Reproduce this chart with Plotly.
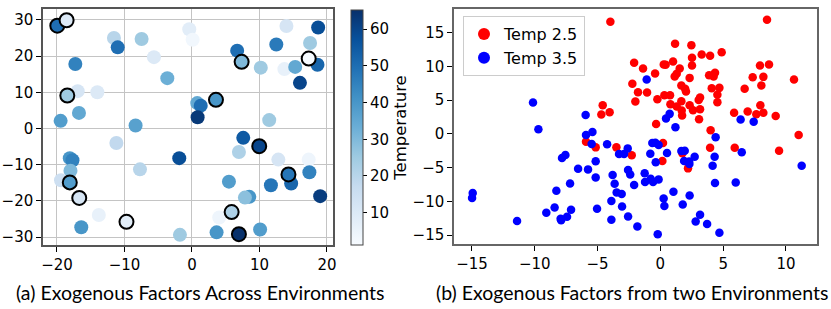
import plotly.graph_objects as go

# ---------------- Panel (a) data ----------------
a_x = [-19.95, -18.57, -11.56, -11.0, -7.46, -5.63, -3.65, -0.4, 0.1, -17.28, -16.93, -14.02, -18.47,
       -16.74, -19.46, -8.35, -11.2, 0.79, 1.3, 0.84, 3.56, 14.0, 18.7, 12.5, 17.5, 6.7, 7.36, 10.2,
       13.7, 15.3, 17.3, 18.6, 16.0, 11.45, 7.6, 9.97, 6.96, 12.8, 17.3, 14.3, 17.4, 14.7, 11.7, 5.48,
       8.5, 7.85, 19.0, 5.88, 4.04, 3.65, 6.96, 10.1, -1.88, -18.1, -17.7, -18.0, -7.7, -19.4, -18.1,
       -16.7, -13.8, -9.7, -16.4, -1.78]
a_y = [28.4, 29.9, 25.0, 22.4, 24.7, 19.7, 13.9, 27.4, 24.5, 17.8, 10.3, 10.0, 9.1,
       4.3, 2.1, 0.8, -4.0, 7.0, 6.3, 3.1, 7.9, 28.3, 27.9, 23.2, 23.6, 21.5, 18.4, 16.8,
       16.4, 17.0, 19.3, 17.6, 12.6, 2.3, -2.6, -4.9, -6.5, -8.6, -8.6, -12.7, -12.1, -15.2, -15.7, -14.7,
       -18.9, -19.1, -18.7, -23.1, -24.6, -28.7, -29.2, -27.9, -8.2, -8.2, -8.8, -11.7, -11.3, -14.3, -14.9,
       -19.2, -23.9, -25.8, -27.3, -29.4]
a_temp = [50, 10, 20, 50, 25, 10, 33, 8, 3, 45, 12, 10, 25,
          35, 38, 37, 18, 35, 50, 63, 40, 12, 58, 47, 25, 50, 30, 25,
          6, 35, 1, 52, 60, 25, 55, 60, 22, 12, 4, 48, 45, 52, 48, 38,
          40, 28, 62, 22, 4, 40, 65, 38, 58, 40, 45, 30, 20, 15, 38,
          12, 6, 8, 40, 25]
a_outlined = [1, 1, 0, 0, 0, 0, 0, 0, 0, 0, 0, 0, 1,
              0, 0, 0, 0, 0, 0, 0, 1, 0, 0, 0, 0, 0, 1, 0,
              0, 0, 1, 0, 0, 0, 0, 1, 0, 0, 0, 1, 0, 0, 0, 0,
              0, 0, 0, 1, 0, 0, 1, 0, 0, 0, 0, 0, 0, 0, 1,
              1, 0, 1, 0, 0]

# ---------------- Panel (b) data ----------------
red_x = [8.49, -3.98, 1.17, 2.47, 4.88, 3.29, 3.96, 2.52, -2.09, 1.01, 0.27, 0.42, 2.52, 7.93, 8.65,
         -1.38, 1.54, -0.42, 1.30, 1.14, 3.88, 4.35, 4.24, 2.33, 7.35, 8.2, 10.64, -2.23, 1.67, 1.97,
         2.04, 4.09, 4.70, 8.04, 6.71, -1.78, -1.06, 0.32, 0.77, 4.54, -0.24, 3.16, 3.05, -1.99, 1.67,
         4.54, 0.80, 1.30, 2.33, 7.96, 3.16, 2.60, 1.70, 1.73, 5.87, 6.95, 7.64, 8.2, 9.18, 3.08,
         -0.34, 4.0, 11.01, 0.21, 3.96, 5.92, 9.45, -4.59, -4.70, -4.04, -5.92, -5.15, -3.50, -2.28,
         0.16, 1.75, 2.2]
red_y = [16.9, 16.6, 13.35, 13.15, 12.1, 11.77, 11.57, 11.28, 10.53, 10.73, 10.28, 10.24, 10.13, 10.13, 10.28,
         9.69, 9.69, 8.95, 8.9, 8.5, 8.69, 9.05, 8.5, 8.3, 8.4, 8.45, 8.06, 7.42, 7.17, 6.68,
         6.28, 6.77, 6.82, 7.17, 6.68, 6.17, 6.13, 5.73, 5.73, 5.79, 5.13, 5.39, 5.04, 4.79, 4.84,
         4.69, 4.39, 4.05, 4.24, 4.24, 3.65, 3.5, 3.46, 2.72, 3.12, 3.31, 2.91, 3.12, 2.67, 2.17,
         1.48, 0.53, -0.15, -1.34, -2.03, -2.03, -2.48, 4.24, 2.86, 3.2, -1.14, -1.99, -1.99, -3.17,
         -4.0, -2.87, -5.1]
blue_x = [-10.14, -9.71, -5.95, -5.92, -5.41, -5.47, -4.24, -2.6, -14.94, -14.99, -11.41, -9.08, -8.42,
          -8.28, -7.94, -7.9, -7.43, -7.11, -7.19, -7.83, -7.56, -6.55, -5.76, -5.15, -5.15, -5.04,
          -3.9, -3.9, -3.80, -3.64, -3.48, -3.08, -3.05, -3.29, -2.89, -2.57, -2.57, -2.4, -0.64, -0.4,
          -0.14, -0.8, 0.53, -0.37, 1.67, 1.94, 1.89, 2.31, 2.29, 2.73, -2.09, -1.25, -1.22, -0.77,
          -0.58, -0.14, -1.83, -0.21, 0.26, 0.32, 1.04, 1.78, 2.33, 3.16, 2.81, 3.72, 4.4, 4.32, 4.16,
          4.35, 6.0, 6.48, 11.25, 4.7, -1.09, 0.74, 0.45, 1.2, 6.39, 7.43]
blue_y = [4.64, 0.69, 2.82, -0.15, 0.3, -1.48, -1.54, -2.14, -8.75, -9.5, -12.91, -11.68, -10.89,
          -8.41, -12.57, -12.8, -12.27, -11.23, -7.33, -3.56, -3.12, -5.15, -5.25, -4.06, -6.44, -11.08,
          -12.71, -9.94, -6.08, -7.37, -8.66, -8.9, -10.74, -2.97, -2.97, -5.34, -12.22, -6.0, -1.34, -1.29,
          -1.63, -2.92, -2.82, -4.21, -2.52, -2.48, -4.01, -4.45, -4.07, -3.37, -7.57, -5.84, -7.12, -6.63,
          -7.12, -6.73, -13.71, -14.84, -9.55, -10.68, -8.56, -10.45, -9.11, -11.97, -12.97, -13.35, -0.5, -3.37, -4.7,
          -7.27, -7.18, -2.73, -4.7, -14.64, 8.06, 2.97, 2.27, 0.98, 2.12, 1.82]

a_xticks = [-20, -10, 0, 10, 20]
a_yticks = [-30, -20, -10, 0, 10, 20, 30]
b_xticks = [-15, -10, -5, 0, 5, 10]
b_yticks = [-15, -10, -5, 0, 5, 10, 15]
cbar_ticks = [10, 20, 30, 40, 50, 60]
captions = ["(a) Exogenous Factors Across Environments", "(b) Exogenous Factors from two Environments"]

W, H = 831, 309
TICKFONT = dict(family="DejaVu Sans", size=15, color="black")
blues = [[0.0, "#f7fbff"], [0.125, "#deebf7"], [0.25, "#c6dbef"], [0.375, "#9ecae1"],
         [0.5, "#6baed6"], [0.625, "#4292c6"], [0.75, "#2171b5"], [0.875, "#08519c"], [1.0, "#08306b"]]

fig = go.Figure()

plain = [i for i, o in enumerate(a_outlined) if not o]
ring = [i for i, o in enumerate(a_outlined) if o]
fig.add_trace(go.Scatter(
    x=[a_x[i] for i in plain], y=[a_y[i] for i in plain], mode="markers",
    marker=dict(size=14, color=[a_temp[i] for i in plain], coloraxis="coloraxis", line=dict(width=0)),
    xaxis="x", yaxis="y", showlegend=False))
fig.add_trace(go.Scatter(
    x=[a_x[i] for i in ring], y=[a_y[i] for i in ring], mode="markers",
    marker=dict(size=14, color=[a_temp[i] for i in ring], coloraxis="coloraxis",
                line=dict(width=2, color="black")),
    xaxis="x", yaxis="y", showlegend=False))

fig.add_trace(go.Scatter(x=red_x, y=red_y, mode="markers", name="Temp 2.5",
                         marker=dict(size=8.5, color="#ff0000"), xaxis="x2", yaxis="y2"))
fig.add_trace(go.Scatter(x=blue_x, y=blue_y, mode="markers", name="Temp 3.5",
                         marker=dict(size=8.5, color="#0000ff"), xaxis="x2", yaxis="y2"))

axis_common = dict(showline=True, mirror=True, ticks="outside", ticklen=5, tickcolor="black",
                   tickfont=TICKFONT, zeroline=False, automargin=False)

fig.update_layout(
    width=W, height=H, margin=dict(l=0, r=0, t=0, b=0, pad=0, autoexpand=False),
    paper_bgcolor="white", plot_bgcolor="white",
    xaxis=dict(domain=[43 / W, 333 / W], range=[-22.07, 20.9], tickvals=a_xticks,
               showgrid=True, gridcolor="#c4c4c4", gridwidth=1.3, linecolor="#555", linewidth=1.5,
               anchor="y", **axis_common),
    yaxis=dict(domain=[1 - 245 / H, 1 - 9 / H], range=[-32.2, 33.0], tickvals=a_yticks,
               showgrid=True, gridcolor="#c4c4c4", gridwidth=1.3, linecolor="#555", linewidth=1.5,
               anchor="x", **axis_common),
    xaxis2=dict(domain=[454 / W, 817 / W], range=[-16.43, 12.47], tickvals=b_xticks,
                showgrid=False, linecolor="#666", linewidth=1.5, anchor="y2", **axis_common),
    yaxis2=dict(domain=[1 - 244 / H, 1 - 9 / H], range=[-16.3, 18.5], tickvals=b_yticks,
                showgrid=False, linecolor="#666", linewidth=1.5, anchor="x2", **axis_common),
    coloraxis=dict(
        colorscale=blues, cmin=1.2, cmax=65.2,
        colorbar=dict(
            x=351 / W, xanchor="left", xpad=0, ypad=0,
            y=1 - 127.5 / H, yanchor="middle",
            thickness=12, thicknessmode="pixels", len=235, lenmode="pixels",
            outlinewidth=1, outlinecolor="#444",
            tickvals=cbar_ticks, ticks="outside", ticklen=4, tickcolor="black",
            tickfont=TICKFONT,
            title=dict(text="Temperature", side="right", font=dict(family="DejaVu Sans", size=16.5, color="black")),
        ),
    ),
    legend=dict(x=463 / W, y=1 - 16 / H, xanchor="left", yanchor="top",
                bgcolor="white", bordercolor="#cccccc", borderwidth=1,
                font=dict(family="DejaVu Sans", size=16, color="black"), itemsizing="constant"),
    annotations=[
        dict(text=captions[0], x=200 / W, y=1 - 292 / H, xref="paper", yref="paper",
             showarrow=False, xanchor="center", yanchor="middle",
             font=dict(family="Lato", size=19.5, color="black")),
        dict(text=captions[1], x=632 / W, y=1 - 292 / H, xref="paper", yref="paper",
             showarrow=False, xanchor="center", yanchor="middle",
             font=dict(family="Lato", size=19.5, color="black")),
    ],
)

# remove the browser's default 8px body margin so the figure sits at the page origin
fig.write_html("out.html", config={"displayModeBar": False},
               post_script="document.body.style.margin='0';document.body.style.overflow='hidden';")
